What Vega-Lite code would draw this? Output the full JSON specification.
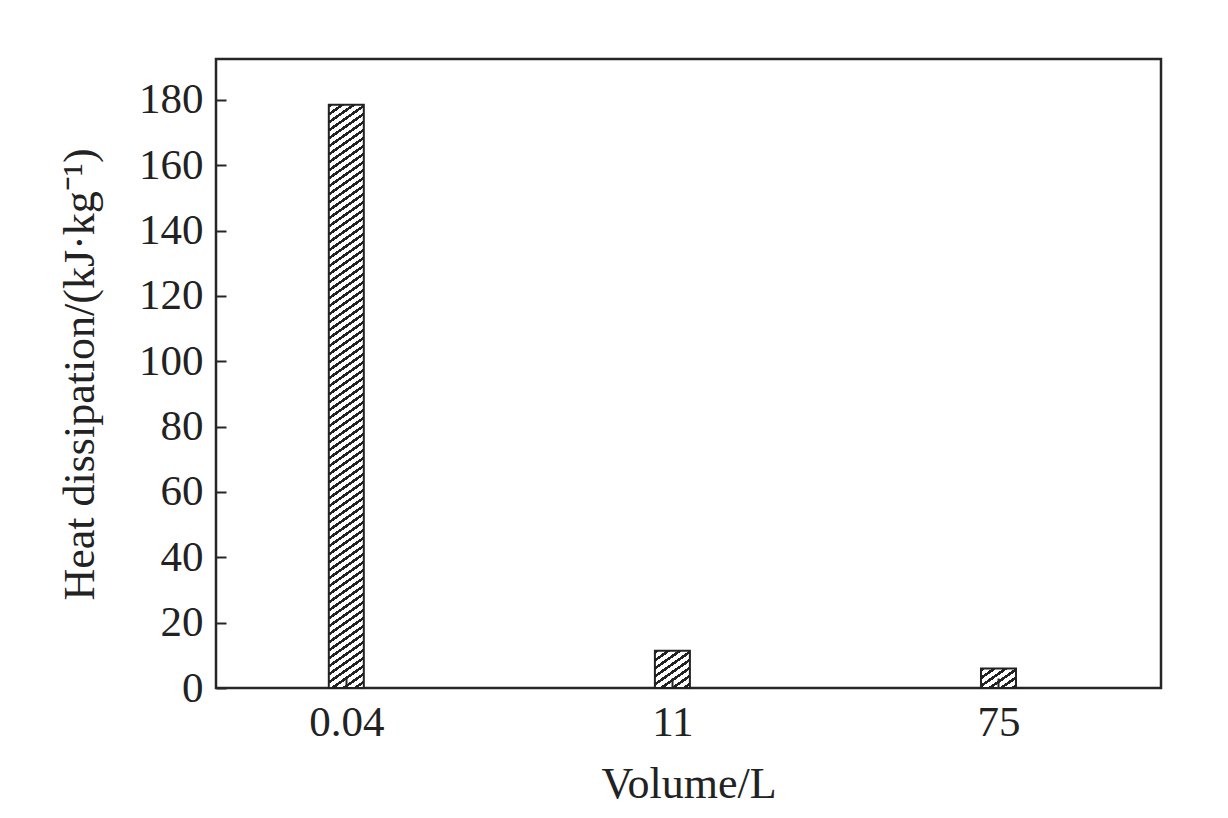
{
  "$schema": "https://vega.github.io/schema/vega-lite/v6.json",
  "width": 945,
  "height": 629,
  "autosize": "none",
  "padding": {"left": 216, "top": 59, "right": 67, "bottom": 130},
  "background": "white",
  "config": {
    "view": {"stroke": "#262626", "strokeWidth": 2.5},
    "font": "Liberation Serif",
    "axis": {
      "domain": false, "offset": -10,
      "tickColor": "#262626", "tickWidth": 2, "tickSize": 10,
      "labelFont": "Liberation Serif", "labelFontSize": 43, "labelColor": "#222",
      "titleFont": "Liberation Serif", "titleFontSize": 44, "titleFontWeight": "normal", "titleColor": "#222",
      "grid": false
    }
  },
  "data": {"values": [
    {"volume": "0.04", "heat": 178.5},
    {"volume": "11", "heat": 11.4},
    {"volume": "75", "heat": 6.0}
  ]},
  "encoding": {
    "x": {"field": "volume", "type": "ordinal",
      "scale": {"type": "point", "domain": ["0.04", "11", "75"], "padding": 0.449, "align": 0.445},
      "axis": {"title": "Volume/L", "labelAngle": 0, "labelPadding": 13, "titlePadding": 18, "zindex": 1}},
    "y": {"field": "heat", "type": "quantitative",
      "scale": {"domain": [0, 192.5], "nice": false, "zero": true},
      "axis": {"title": "Heat dissipation/(kJ·kg⁻¹)", "values": [0, 20, 40, 60, 80, 100, 120, 140, 160, 180],
        "labelPadding": 13, "titleX": -133, "titleY": 315, "titleAngle": -90, "titleBaseline": "alphabetic", "titleAlign": "center", "zindex": 1}}
  },
  "layer": [
    {"transform": [{"filter": "datum.volume === '0.04'"}],
     "mark": {"type": "bar", "size": 35, "stroke": "#222", "strokeWidth": 2,
       "fill": {"gradient": "linear", "x1": 0, "y1": 0, "x2": 0.0575, "y2": 1.3692, "stops": [
{"offset":0,"color":"#222"},{"offset":0.004,"color":"#222"},{"offset":0.004,"color":"#fff"},{"offset":0.01,"color":"#fff"},
{"offset":0.01,"color":"#222"},{"offset":0.014,"color":"#222"},{"offset":0.014,"color":"#fff"},{"offset":0.02,"color":"#fff"},
{"offset":0.02,"color":"#222"},{"offset":0.024,"color":"#222"},{"offset":0.024,"color":"#fff"},{"offset":0.03,"color":"#fff"},
{"offset":0.03,"color":"#222"},{"offset":0.034,"color":"#222"},{"offset":0.034,"color":"#fff"},{"offset":0.04,"color":"#fff"},
{"offset":0.04,"color":"#222"},{"offset":0.044,"color":"#222"},{"offset":0.044,"color":"#fff"},{"offset":0.05,"color":"#fff"},
{"offset":0.05,"color":"#222"},{"offset":0.054,"color":"#222"},{"offset":0.054,"color":"#fff"},{"offset":0.06,"color":"#fff"},
{"offset":0.06,"color":"#222"},{"offset":0.064,"color":"#222"},{"offset":0.064,"color":"#fff"},{"offset":0.07,"color":"#fff"},
{"offset":0.07,"color":"#222"},{"offset":0.074,"color":"#222"},{"offset":0.074,"color":"#fff"},{"offset":0.08,"color":"#fff"},
{"offset":0.08,"color":"#222"},{"offset":0.084,"color":"#222"},{"offset":0.084,"color":"#fff"},{"offset":0.09,"color":"#fff"},
{"offset":0.09,"color":"#222"},{"offset":0.094,"color":"#222"},{"offset":0.094,"color":"#fff"},{"offset":0.1,"color":"#fff"},
{"offset":0.1,"color":"#222"},{"offset":0.104,"color":"#222"},{"offset":0.104,"color":"#fff"},{"offset":0.11,"color":"#fff"},
{"offset":0.11,"color":"#222"},{"offset":0.114,"color":"#222"},{"offset":0.114,"color":"#fff"},{"offset":0.12,"color":"#fff"},
{"offset":0.12,"color":"#222"},{"offset":0.124,"color":"#222"},{"offset":0.124,"color":"#fff"},{"offset":0.13,"color":"#fff"},
{"offset":0.13,"color":"#222"},{"offset":0.134,"color":"#222"},{"offset":0.134,"color":"#fff"},{"offset":0.14,"color":"#fff"},
{"offset":0.14,"color":"#222"},{"offset":0.144,"color":"#222"},{"offset":0.144,"color":"#fff"},{"offset":0.15,"color":"#fff"},
{"offset":0.15,"color":"#222"},{"offset":0.154,"color":"#222"},{"offset":0.154,"color":"#fff"},{"offset":0.16,"color":"#fff"},
{"offset":0.16,"color":"#222"},{"offset":0.164,"color":"#222"},{"offset":0.164,"color":"#fff"},{"offset":0.17,"color":"#fff"},
{"offset":0.17,"color":"#222"},{"offset":0.174,"color":"#222"},{"offset":0.174,"color":"#fff"},{"offset":0.18,"color":"#fff"},
{"offset":0.18,"color":"#222"},{"offset":0.184,"color":"#222"},{"offset":0.184,"color":"#fff"},{"offset":0.19,"color":"#fff"},
{"offset":0.19,"color":"#222"},{"offset":0.194,"color":"#222"},{"offset":0.194,"color":"#fff"},{"offset":0.2,"color":"#fff"},
{"offset":0.2,"color":"#222"},{"offset":0.204,"color":"#222"},{"offset":0.204,"color":"#fff"},{"offset":0.21,"color":"#fff"},
{"offset":0.21,"color":"#222"},{"offset":0.214,"color":"#222"},{"offset":0.214,"color":"#fff"},{"offset":0.22,"color":"#fff"},
{"offset":0.22,"color":"#222"},{"offset":0.224,"color":"#222"},{"offset":0.224,"color":"#fff"},{"offset":0.23,"color":"#fff"},
{"offset":0.23,"color":"#222"},{"offset":0.234,"color":"#222"},{"offset":0.234,"color":"#fff"},{"offset":0.24,"color":"#fff"},
{"offset":0.24,"color":"#222"},{"offset":0.244,"color":"#222"},{"offset":0.244,"color":"#fff"},{"offset":0.25,"color":"#fff"},
{"offset":0.25,"color":"#222"},{"offset":0.254,"color":"#222"},{"offset":0.254,"color":"#fff"},{"offset":0.26,"color":"#fff"},
{"offset":0.26,"color":"#222"},{"offset":0.264,"color":"#222"},{"offset":0.264,"color":"#fff"},{"offset":0.27,"color":"#fff"},
{"offset":0.27,"color":"#222"},{"offset":0.274,"color":"#222"},{"offset":0.274,"color":"#fff"},{"offset":0.28,"color":"#fff"},
{"offset":0.28,"color":"#222"},{"offset":0.284,"color":"#222"},{"offset":0.284,"color":"#fff"},{"offset":0.29,"color":"#fff"},
{"offset":0.29,"color":"#222"},{"offset":0.294,"color":"#222"},{"offset":0.294,"color":"#fff"},{"offset":0.3,"color":"#fff"},
{"offset":0.3,"color":"#222"},{"offset":0.304,"color":"#222"},{"offset":0.304,"color":"#fff"},{"offset":0.31,"color":"#fff"},
{"offset":0.31,"color":"#222"},{"offset":0.314,"color":"#222"},{"offset":0.314,"color":"#fff"},{"offset":0.32,"color":"#fff"},
{"offset":0.32,"color":"#222"},{"offset":0.324,"color":"#222"},{"offset":0.324,"color":"#fff"},{"offset":0.33,"color":"#fff"},
{"offset":0.33,"color":"#222"},{"offset":0.334,"color":"#222"},{"offset":0.334,"color":"#fff"},{"offset":0.34,"color":"#fff"},
{"offset":0.34,"color":"#222"},{"offset":0.344,"color":"#222"},{"offset":0.344,"color":"#fff"},{"offset":0.35,"color":"#fff"},
{"offset":0.35,"color":"#222"},{"offset":0.354,"color":"#222"},{"offset":0.354,"color":"#fff"},{"offset":0.36,"color":"#fff"},
{"offset":0.36,"color":"#222"},{"offset":0.364,"color":"#222"},{"offset":0.364,"color":"#fff"},{"offset":0.37,"color":"#fff"},
{"offset":0.37,"color":"#222"},{"offset":0.374,"color":"#222"},{"offset":0.374,"color":"#fff"},{"offset":0.38,"color":"#fff"},
{"offset":0.38,"color":"#222"},{"offset":0.384,"color":"#222"},{"offset":0.384,"color":"#fff"},{"offset":0.39,"color":"#fff"},
{"offset":0.39,"color":"#222"},{"offset":0.394,"color":"#222"},{"offset":0.394,"color":"#fff"},{"offset":0.4,"color":"#fff"},
{"offset":0.4,"color":"#222"},{"offset":0.404,"color":"#222"},{"offset":0.404,"color":"#fff"},{"offset":0.41,"color":"#fff"},
{"offset":0.41,"color":"#222"},{"offset":0.414,"color":"#222"},{"offset":0.414,"color":"#fff"},{"offset":0.42,"color":"#fff"},
{"offset":0.42,"color":"#222"},{"offset":0.424,"color":"#222"},{"offset":0.424,"color":"#fff"},{"offset":0.43,"color":"#fff"},
{"offset":0.43,"color":"#222"},{"offset":0.434,"color":"#222"},{"offset":0.434,"color":"#fff"},{"offset":0.44,"color":"#fff"},
{"offset":0.44,"color":"#222"},{"offset":0.444,"color":"#222"},{"offset":0.444,"color":"#fff"},{"offset":0.45,"color":"#fff"},
{"offset":0.45,"color":"#222"},{"offset":0.454,"color":"#222"},{"offset":0.454,"color":"#fff"},{"offset":0.46,"color":"#fff"},
{"offset":0.46,"color":"#222"},{"offset":0.464,"color":"#222"},{"offset":0.464,"color":"#fff"},{"offset":0.47,"color":"#fff"},
{"offset":0.47,"color":"#222"},{"offset":0.474,"color":"#222"},{"offset":0.474,"color":"#fff"},{"offset":0.48,"color":"#fff"},
{"offset":0.48,"color":"#222"},{"offset":0.484,"color":"#222"},{"offset":0.484,"color":"#fff"},{"offset":0.49,"color":"#fff"},
{"offset":0.49,"color":"#222"},{"offset":0.494,"color":"#222"},{"offset":0.494,"color":"#fff"},{"offset":0.5,"color":"#fff"},
{"offset":0.5,"color":"#222"},{"offset":0.504,"color":"#222"},{"offset":0.504,"color":"#fff"},{"offset":0.51,"color":"#fff"},
{"offset":0.51,"color":"#222"},{"offset":0.514,"color":"#222"},{"offset":0.514,"color":"#fff"},{"offset":0.52,"color":"#fff"},
{"offset":0.52,"color":"#222"},{"offset":0.524,"color":"#222"},{"offset":0.524,"color":"#fff"},{"offset":0.53,"color":"#fff"},
{"offset":0.53,"color":"#222"},{"offset":0.534,"color":"#222"},{"offset":0.534,"color":"#fff"},{"offset":0.54,"color":"#fff"},
{"offset":0.54,"color":"#222"},{"offset":0.544,"color":"#222"},{"offset":0.544,"color":"#fff"},{"offset":0.55,"color":"#fff"},
{"offset":0.55,"color":"#222"},{"offset":0.554,"color":"#222"},{"offset":0.554,"color":"#fff"},{"offset":0.56,"color":"#fff"},
{"offset":0.56,"color":"#222"},{"offset":0.564,"color":"#222"},{"offset":0.564,"color":"#fff"},{"offset":0.57,"color":"#fff"},
{"offset":0.57,"color":"#222"},{"offset":0.574,"color":"#222"},{"offset":0.574,"color":"#fff"},{"offset":0.58,"color":"#fff"},
{"offset":0.58,"color":"#222"},{"offset":0.584,"color":"#222"},{"offset":0.584,"color":"#fff"},{"offset":0.59,"color":"#fff"},
{"offset":0.59,"color":"#222"},{"offset":0.594,"color":"#222"},{"offset":0.594,"color":"#fff"},{"offset":0.6,"color":"#fff"},
{"offset":0.6,"color":"#222"},{"offset":0.604,"color":"#222"},{"offset":0.604,"color":"#fff"},{"offset":0.61,"color":"#fff"},
{"offset":0.61,"color":"#222"},{"offset":0.614,"color":"#222"},{"offset":0.614,"color":"#fff"},{"offset":0.62,"color":"#fff"},
{"offset":0.62,"color":"#222"},{"offset":0.624,"color":"#222"},{"offset":0.624,"color":"#fff"},{"offset":0.63,"color":"#fff"},
{"offset":0.63,"color":"#222"},{"offset":0.634,"color":"#222"},{"offset":0.634,"color":"#fff"},{"offset":0.64,"color":"#fff"},
{"offset":0.64,"color":"#222"},{"offset":0.644,"color":"#222"},{"offset":0.644,"color":"#fff"},{"offset":0.65,"color":"#fff"},
{"offset":0.65,"color":"#222"},{"offset":0.654,"color":"#222"},{"offset":0.654,"color":"#fff"},{"offset":0.66,"color":"#fff"},
{"offset":0.66,"color":"#222"},{"offset":0.664,"color":"#222"},{"offset":0.664,"color":"#fff"},{"offset":0.67,"color":"#fff"},
{"offset":0.67,"color":"#222"},{"offset":0.674,"color":"#222"},{"offset":0.674,"color":"#fff"},{"offset":0.68,"color":"#fff"},
{"offset":0.68,"color":"#222"},{"offset":0.684,"color":"#222"},{"offset":0.684,"color":"#fff"},{"offset":0.69,"color":"#fff"},
{"offset":0.69,"color":"#222"},{"offset":0.694,"color":"#222"},{"offset":0.694,"color":"#fff"},{"offset":0.7,"color":"#fff"},
{"offset":0.7,"color":"#222"},{"offset":0.704,"color":"#222"},{"offset":0.704,"color":"#fff"},{"offset":0.71,"color":"#fff"},
{"offset":0.71,"color":"#222"},{"offset":0.714,"color":"#222"},{"offset":0.714,"color":"#fff"},{"offset":0.72,"color":"#fff"},
{"offset":0.72,"color":"#222"},{"offset":0.724,"color":"#222"},{"offset":0.724,"color":"#fff"},{"offset":0.73,"color":"#fff"},
{"offset":0.73,"color":"#222"},{"offset":0.734,"color":"#222"},{"offset":0.734,"color":"#fff"},{"offset":0.74,"color":"#fff"},
{"offset":0.74,"color":"#222"},{"offset":0.744,"color":"#222"},{"offset":0.744,"color":"#fff"},{"offset":0.75,"color":"#fff"},
{"offset":0.75,"color":"#222"},{"offset":0.754,"color":"#222"},{"offset":0.754,"color":"#fff"},{"offset":0.76,"color":"#fff"},
{"offset":0.76,"color":"#222"},{"offset":0.764,"color":"#222"},{"offset":0.764,"color":"#fff"},{"offset":0.77,"color":"#fff"}
       ]}}},
    {"transform": [{"filter": "datum.volume === '11'"}],
     "mark": {"type": "bar", "size": 35, "stroke": "#222", "strokeWidth": 2,
       "fill": {"gradient": "linear", "x1": 0, "y1": 0, "x2": 9.86, "y2": 14.991, "stops": [
{"offset":0,"color":"#222"},{"offset":0.004,"color":"#222"},{"offset":0.004,"color":"#fff"},{"offset":0.01,"color":"#fff"},
{"offset":0.01,"color":"#222"},{"offset":0.014,"color":"#222"},{"offset":0.014,"color":"#fff"},{"offset":0.02,"color":"#fff"},
{"offset":0.02,"color":"#222"},{"offset":0.024,"color":"#222"},{"offset":0.024,"color":"#fff"},{"offset":0.03,"color":"#fff"},
{"offset":0.03,"color":"#222"},{"offset":0.034,"color":"#222"},{"offset":0.034,"color":"#fff"},{"offset":0.04,"color":"#fff"},
{"offset":0.04,"color":"#222"},{"offset":0.044,"color":"#222"},{"offset":0.044,"color":"#fff"},{"offset":0.05,"color":"#fff"},
{"offset":0.05,"color":"#222"},{"offset":0.054,"color":"#222"},{"offset":0.054,"color":"#fff"},{"offset":0.06,"color":"#fff"},
{"offset":0.06,"color":"#222"},{"offset":0.064,"color":"#222"},{"offset":0.064,"color":"#fff"},{"offset":0.07,"color":"#fff"},
{"offset":0.07,"color":"#222"},{"offset":0.074,"color":"#222"},{"offset":0.074,"color":"#fff"},{"offset":0.08,"color":"#fff"},
{"offset":0.08,"color":"#222"},{"offset":0.084,"color":"#222"},{"offset":0.084,"color":"#fff"},{"offset":0.09,"color":"#fff"},
{"offset":0.09,"color":"#222"},{"offset":0.094,"color":"#222"},{"offset":0.094,"color":"#fff"},{"offset":0.1,"color":"#fff"}
       ]}}},
    {"transform": [{"filter": "datum.volume === '75'"}],
     "mark": {"type": "bar", "size": 35, "stroke": "#222", "strokeWidth": 2,
       "fill": {"gradient": "linear", "x1": 0, "y1": 0, "x2": 19.91, "y2": 15.928, "stops": [
{"offset":0,"color":"#222"},{"offset":0.004,"color":"#222"},{"offset":0.004,"color":"#fff"},{"offset":0.01,"color":"#fff"},
{"offset":0.01,"color":"#222"},{"offset":0.014,"color":"#222"},{"offset":0.014,"color":"#fff"},{"offset":0.02,"color":"#fff"},
{"offset":0.02,"color":"#222"},{"offset":0.024,"color":"#222"},{"offset":0.024,"color":"#fff"},{"offset":0.03,"color":"#fff"},
{"offset":0.03,"color":"#222"},{"offset":0.034,"color":"#222"},{"offset":0.034,"color":"#fff"},{"offset":0.04,"color":"#fff"},
{"offset":0.04,"color":"#222"},{"offset":0.044,"color":"#222"},{"offset":0.044,"color":"#fff"},{"offset":0.05,"color":"#fff"},
{"offset":0.05,"color":"#222"},{"offset":0.054,"color":"#222"},{"offset":0.054,"color":"#fff"},{"offset":0.06,"color":"#fff"},
{"offset":0.06,"color":"#222"},{"offset":0.064,"color":"#222"},{"offset":0.064,"color":"#fff"},{"offset":0.07,"color":"#fff"}
       ]}}}
  ]
}
